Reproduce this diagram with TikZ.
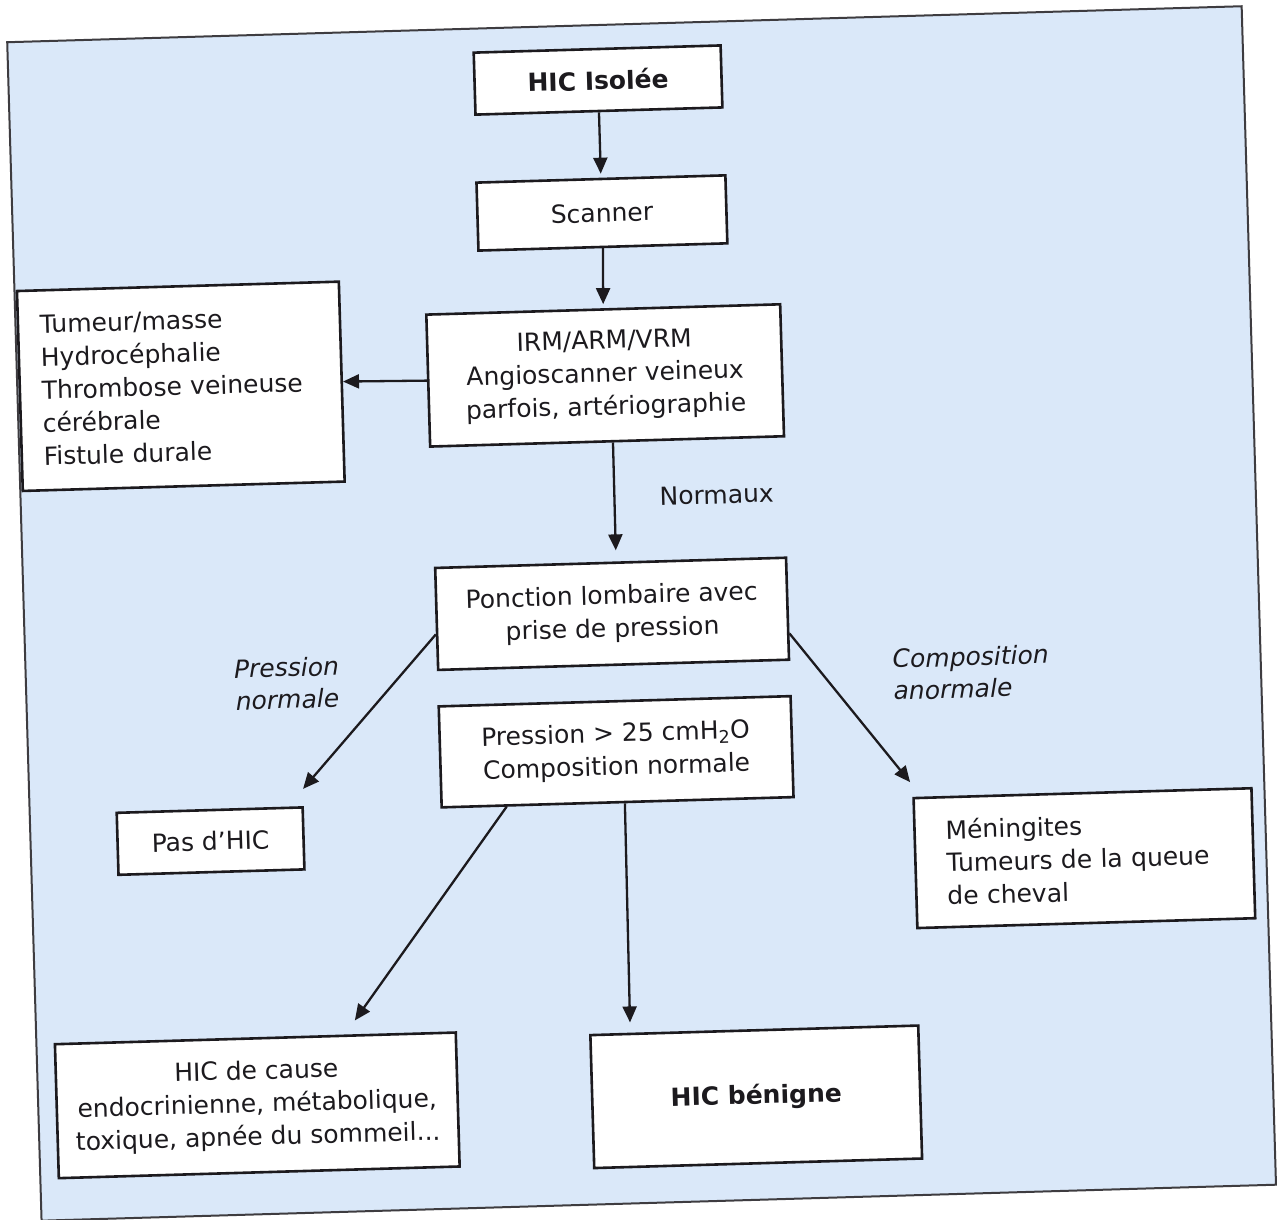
\documentclass[tikz,border=0pt]{standalone}
\usepackage{fontspec}
\setmainfont{DejaVu Sans}
\usetikzlibrary{arrows.meta}
\definecolor{panelblue}{RGB}{218,232,249}
\definecolor{ink}{RGB}{28,26,30}
\newcommand\dfsize{\fontsize{25}{33}\selectfont}
\begin{document}
\begin{tikzpicture}[x=1pt,y=-1pt,
  every node/.append style={font=\dfsize},
  box/.style={draw=ink, line width=2.6pt, fill=white, text=ink, inner sep=0pt, align=center, transform shape},
  lbl/.style={text=ink, inner sep=0pt, transform shape},
  arr/.style={draw=ink, line width=2.3pt, -{Triangle[length=16pt,width=14pt]}}
]
\useasboundingbox (0,0) rectangle (1277,1219);
\fill[white] (0,0) rectangle (1277,1219);
\begin{scope}[rotate around={1.67:(640,610)}]
\draw[draw=ink!85, line width=2pt, fill=panelblue] (24,24) rectangle (1259,1203);

\node[box, minimum width=247pt, minimum height=62pt, font=\bfseries\dfsize] (hic) at (613.5,79) {HIC Isolée};
\node[box, minimum width=249pt, minimum height=68pt] (scan) at (613.5,212) {Scanner};
\node[box, minimum width=354pt, minimum height=132pt] (irm) at (612,374.5) {IRM/ARM/VRM\\Angioscanner veineux\\parfois, artériographie};
\node[box, align=left, text width=278pt, inner xsep=22pt, minimum height=200pt] (left) at (187.5,373) {Tumeur/masse\\Hydrocéphalie\\Thrombose veineuse\\cérébrale\\Fistule durale};
\node[box, minimum width=351pt, minimum height=102pt] (ponc) at (612,613) {Ponction lombaire avec\\prise de pression};
\node[box, minimum width=352pt, minimum height=101pt] (pres) at (612,751) {Pression > 25 cmH\textsubscript{2}O\\Composition normale};
\node[box, minimum width=186pt, minimum height=62pt] (pas) at (204,828.5) {Pas d'HIC};
\node[box, align=left, text width=276pt, inner xsep=31pt, minimum height=130pt] (men) at (1077,871) {Méningites\\Tumeurs de la queue\\de cheval};
\node[box, minimum width=401pt, minimum height=134pt] (cause) at (243,1094) {HIC de cause\\endocrinienne, métabolique,\\toxique, apnée du sommeil...};
\node[box, minimum width=328pt, minimum height=133pt, font=\bfseries\dfsize] (ben) at (742,1100) {HIC bénigne};

\node[lbl] (normaux) at (720,497) {Normaux};
\node[lbl, align=center, font=\itshape\fontsize{25}{32}\selectfont] (pnorm) at (285,673) {Pression\\normale};
\node[lbl, align=left, anchor=west, font=\itshape\fontsize{25}{32}\selectfont] (canorm) at (891,682) {Composition\\anormale};

\coordinate (tpas) at (298,779);
\coordinate (tmen) at (905,790);
\coordinate (tcause) at (343,1012);
\coordinate (tben) at (618,1022);

\draw[arr, shorten >=4pt] (hic.south) -- (scan.north);
\draw[arr, shorten >=4pt] (scan.south) -- (irm.north);
\draw[arr] (irm.west) -- (left.east);
\draw[arr, shorten >=11pt] (irm.275) -- (ponc.84);
\draw[arr] (ponc.185) -- (tpas);
\draw[arr] (ponc.352) -- (tmen);
\draw[arr] (pres.205) -- (tcause);
\draw[arr] (pres.278) -- (tben);
\end{scope}
\end{tikzpicture}
\end{document}
